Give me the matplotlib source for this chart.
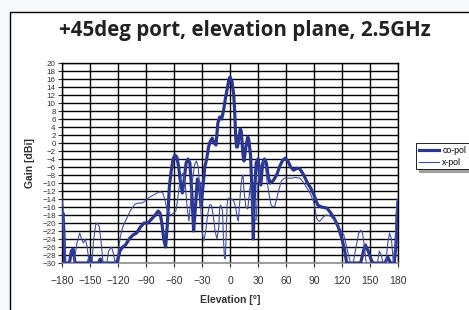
import numpy as np
import matplotlib
matplotlib.use("Agg")
from matplotlib import pyplot as plt
from matplotlib.patches import Rectangle

# Data (elevation in deg, gain in dBi)
co_deg = [-180, -179, -178, -177, -172, -170, -168, -166, -152, -150, -148, -141, -139, -137,
          -121, -118, -115, -112, -108, -104, -100, -96, -92, -88, -84, -80, -77, -75, -73, -71,
          -69, -67, -65, -63, -61, -59, -57, -55, -53, -51, -49, -47, -45, -43, -41, -39, -37,
          -35, -33, -31, -29, -27, -25, -23, -21, -19, -17, -15, -13, -11, -9, -7, -5, -3, -1,
          0, 2, 4, 5, 6, 7, 8, 10, 11, 12, 13, 14, 15, 17, 19, 20, 22, 24, 25, 26, 28, 30, 31,
          33, 35, 37, 39, 41, 43, 46, 50, 53, 56, 59, 62, 65, 68, 72, 75, 79, 83, 87, 90, 94, 98,
          104, 108, 112, 116, 120, 123, 125, 140, 143, 145, 148, 151, 153, 166, 169, 172, 176,
          178, 179, 180]
co_gain = [-19, -17.5, -22, -30, -30, -27, -26.5, -30, -30, -28.5, -30, -30, -29, -30,
           -30, -27, -26, -25.5, -24, -23, -22.5, -21, -20, -20, -19, -18, -17, -17.5, -20, -24,
           -26, -20, -11, -7, -4, -3, -3.5, -6, -10, -12.5, -9, -5, -4, -5, -12, -22, -16,
           -9, -10, -16, -11, -6, -4, -1, 0.5, 1.2, 0, -0.5, 5, 6.5, 6, 8, 11, 13.5, 16,
           16.5, 15.5, 12, 8, 2, -1, -1, 2, 3.5, 3, 0, -3, -4.5, -1, 1.5, 1, -3, -15, -24, -14, -5, -4, -6,
           -10.5, -5, -4, -5, -8.5, -10, -9.5, -8, -6, -4.5, -3.8, -4.5, -6, -6.8, -6.3, -6.5, -8, -10, -11.5, -13, -15.5, -16,
           -16.3, -17.5, -19, -21, -24, -27, -30, -30, -27, -25.5, -27, -29, -30, -30, -28.5, -30, -30,
           -25, -19, -15]

x_deg = [-180, -179, -178, -176, -167, -164, -161, -159, -157, -155, -153, -151, -148, -146,
         -144, -142, -140, -138, -136, -132, -130, -127, -125, -123, -120, -118, -115, -111,
         -107, -102, -98, -94, -90, -86, -82, -78, -75, -72, -70, -67, -64, -62, -58, -56, -54,
         -52, -50, -48, -46, -44, -42, -40, -38, -36, -34, -32, -30, -28, -26, -24, -22, -20,
         -18, -16, -14, -12, -11, -10, -8, -7, -6, -5, -4, -3, -2, 0, 2, 4, 6, 8, 9, 10, 12,
         13, 14, 15, 17, 19, 21, 22, 23, 24, 26, 28, 30, 32, 34, 36, 38, 40, 42, 44, 46, 48,
         50, 52, 55, 58, 62, 66, 70, 75, 79, 83, 86, 90, 93, 96, 100, 103, 107, 111, 115, 118,
         122, 125, 127, 129, 132, 135, 138, 140, 142, 144, 146, 158, 160, 162, 164, 167, 169,
         171, 173, 175, 177, 178, 179, 180]
x_gain = [-14, -16, -22, -30, -30, -25, -22.5, -24, -25, -24, -26, -30, -30, -24,
          -20.5, -20, -21, -25, -30, -30, -27, -26, -27.5, -30, -28, -24, -21, -19,
          -17, -15.3, -15, -15, -14.3, -13.5, -13, -12.5, -12.2, -12.5, -14, -17, -18, -17.8, -17, -14, -10,
          -8, -7.5, -10, -16, -19.5, -14, -9, -5.5, -4.5, -6, -13, -22, -24.5, -22, -18, -15.5, -15.5,
          -18, -22, -24, -21, -16, -15.5, -17, -24, -28.5, -29, -22, -15, -13.8, -14, -14, -14.5, -16, -19, -19.5, -16, -10,
          -8.5, -8, -12, -16, -16.5, -12, -10, -13, -16, -19, -19.3, -10, -6.3, -5, -4.5, -6, -10, -13, -15.5, -16, -15.8,
          -14, -12, -9.5, -8.8, -8.8, -8.8, -8.6, -8.8, -10, -11.5, -12.6, -15, -19, -19.6, -18.5, -18, -18.2, -19, -20.5, -21.5,
          -23, -26, -28, -30, -30, -26, -22.5, -21.8, -22.5, -26, -30, -30, -27, -28, -30, -30, -25,
          -22.5, -24, -30, -25, -18, -14, -14]

x_ticks = [-180, -150, -120, -90, -60, -30, 0, 30, 60, 90, 120, 150, 180]
y_ticks = list(range(-30, 21, 2))

plt.rcParams['font.family'] = ['Liberation Sans', 'DejaVu Sans']

fig = plt.figure(figsize=(4.69, 3.10), dpi=100)
fig.patch.set_facecolor('#f7f8fa')
# white chart area with black frame, behind the axes
fig.patches.append(Rectangle((10 / 469, -0.1), 1.0, (310 - 12) / 310 + 0.1,
                             transform=fig.transFigure, facecolor='white',
                             edgecolor='black', linewidth=1.0, zorder=-5))

ax = fig.add_axes([62 / 469, 47 / 310, 336 / 469, 200 / 310])
ax.set_facecolor('none')

ax.plot(co_deg, co_gain, color='#2b3592', lw=2.3, label='co-pol', zorder=3)
ax.plot(x_deg, x_gain, color='#4050a8', lw=0.8, label='x-pol', zorder=3)

ax.set_xlim(-180, 180)
ax.set_ylim(-30, 20)
ax.set_xticks(x_ticks)
ax.set_yticks(y_ticks)
ax.grid(True, color='black', lw=1.0)
ax.set_axisbelow(True)
ax.tick_params(axis='x', labelsize=7.5, length=3, width=0.8, pad=6, colors='#333333')
ax.tick_params(axis='y', labelsize=5.8, length=3, width=0.8, pad=1.5, colors='#333333')
for s in ['left', 'right', 'top']:
    ax.spines[s].set_linewidth(1.0)
ax.spines['bottom'].set_color('#909090')
ax.spines['bottom'].set_linewidth(1.2)

ax.set_xlabel('Elevation [°]', fontsize=7.5, fontweight='bold', labelpad=7, color='#333333')
ax.set_ylabel('Gain [dBi]', fontsize=7.5, fontweight='bold', labelpad=5, color='#333333')

fig.text(0.523, 0.903, '+45deg port, elevation plane, 2.5GHz', ha='center', va='center',
         fontsize=14.8, fontweight='bold', family=['Open Sans', 'DejaVu Sans'], color='#222222')

leg = fig.legend(loc='upper left', bbox_to_anchor=(416 / 469, (310 - 143) / 310),
                 fontsize=6.3, frameon=True, fancybox=False, shadow=True,
                 edgecolor='black', handlelength=2.3, handletextpad=0.4,
                 borderpad=0.3, labelspacing=0.35, borderaxespad=0)
leg.get_frame().set_linewidth(0.6)

fig.savefig('out.png', dpi=100, facecolor=fig.get_facecolor())
